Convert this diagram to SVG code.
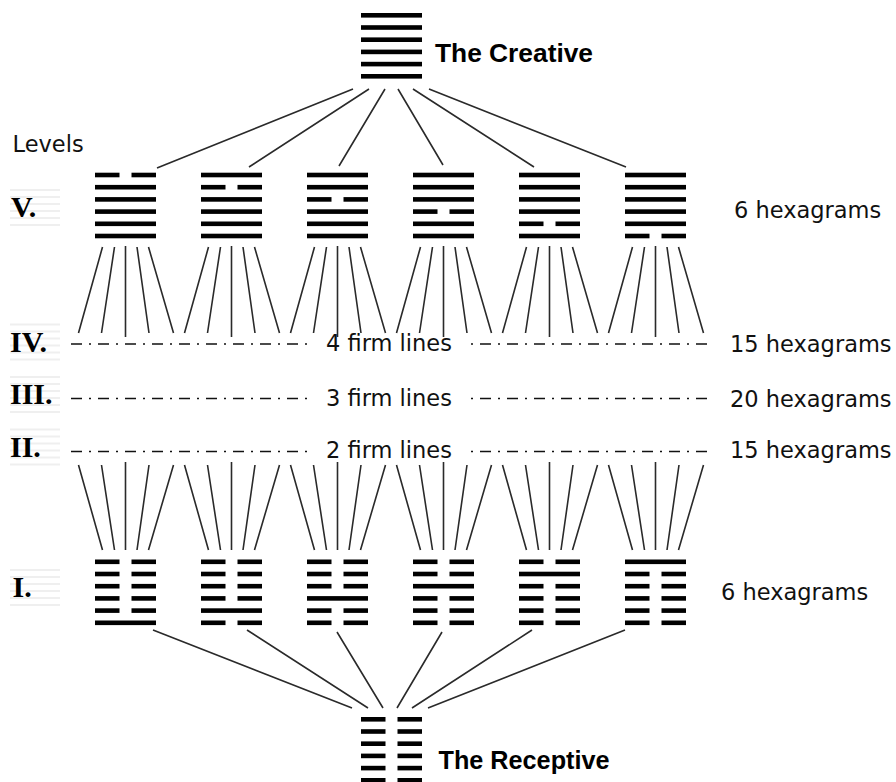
<svg xmlns="http://www.w3.org/2000/svg" xmlns:xlink="http://www.w3.org/1999/xlink" width="896" height="782" viewBox="0 0 896 782">
<style>
.lbl{font-family:"DejaVu Sans",sans-serif;font-size:22.5px;fill:#111}
.ttl{font-family:"Liberation Sans",Arial,sans-serif;font-weight:bold;font-size:25px;fill:#000}
.num{font-family:"Liberation Serif","Times New Roman",serif;font-weight:bold;font-size:30px;fill:#000}
.con{stroke:#2a2a2a;stroke-width:1.6;fill:none}
.dash{stroke:#111;stroke-width:1.7;fill:none}
.faint{stroke:#efefef;stroke-width:2}
</style>
<defs>
<rect id="yang" x="0" y="-2.3" width="61" height="4.6" fill="#000"/>
<g id="yin" fill="#000"><rect x="0" y="-2.3" width="24.5" height="4.6"/><rect x="36.5" y="-2.3" width="24.5" height="4.6"/></g>
<path id="fanV" d="M-23 247L-47 333M-11 247L-24 333M0 246L0 337M11.5 247L23.5 333M23 247L48 333"/>
<path id="fanI" d="M-47 465L-23 550M-24 465L-11 550M0 462L0 550M23.5 465L11.5 550M48 465L23 550"/>
<g id="bg" class="faint"><line x1="10" y1="-27" x2="60" y2="-27"/><line x1="10" y1="-20" x2="60" y2="-20"/><line x1="10" y1="-13" x2="60" y2="-13"/><line x1="10" y1="-6" x2="60" y2="-6"/><line x1="10" y1="1" x2="60" y2="1"/><line x1="10" y1="8" x2="60" y2="8"/></g>
</defs>
<rect width="896" height="782" fill="#fff"/>

<g id="connectors" class="con">
<path d="M353 89L157 168M369 89L249 167M385 89L339 166M398 89L443 165M413 89L534 167M429 89L626 167"/>
<use href="#fanV" x="125.5"/><use href="#fanV" x="231.5"/><use href="#fanV" x="337.5"/><use href="#fanV" x="443.5"/><use href="#fanV" x="549.5"/><use href="#fanV" x="655.5"/>
<use href="#fanI" x="125.5"/><use href="#fanI" x="231.5"/><use href="#fanI" x="337.5"/><use href="#fanI" x="443.5"/><use href="#fanI" x="549.5"/><use href="#fanI" x="655.5"/>
<path d="M153 630L352 708M247 630L368 708M337 632L383 708M442 632L397 708M532 630L412 708M625 630L428 708"/>
</g>

<g id="levels-dashes" class="dash" stroke-dasharray="11 7 2 7">
<line x1="71" y1="344" x2="314" y2="344"/>
<line x1="471" y1="344" x2="711" y2="344" stroke-dashoffset="18"/>
<line x1="71" y1="398.5" x2="314" y2="398.5"/>
<line x1="471" y1="398.5" x2="711" y2="398.5" stroke-dashoffset="18"/>
<line x1="71" y1="451.5" x2="314" y2="451.5"/>
<line x1="471" y1="451.5" x2="711" y2="451.5" stroke-dashoffset="18"/>
</g>

<g id="creative" transform="translate(361,15.3)">
<use href="#yang" y="0"/><use href="#yang" y="12.2"/><use href="#yang" y="24.4"/><use href="#yang" y="36.6"/><use href="#yang" y="48.8"/><use href="#yang" y="61"/>
</g>
<text class="ttl" x="435" y="62.3" textLength="158" lengthAdjust="spacingAndGlyphs">The Creative</text>

<g id="v1" transform="translate(95,175)"><use href="#yin" y="0"/><use href="#yang" y="12.2"/><use href="#yang" y="24.4"/><use href="#yang" y="36.6"/><use href="#yang" y="48.8"/><use href="#yang" y="61"/></g>
<g id="v2" transform="translate(201,175)"><use href="#yang" y="0"/><use href="#yin" y="12.2"/><use href="#yang" y="24.4"/><use href="#yang" y="36.6"/><use href="#yang" y="48.8"/><use href="#yang" y="61"/></g>
<g id="v3" transform="translate(307,175)"><use href="#yang" y="0"/><use href="#yang" y="12.2"/><use href="#yin" y="24.4"/><use href="#yang" y="36.6"/><use href="#yang" y="48.8"/><use href="#yang" y="61"/></g>
<g id="v4" transform="translate(413,175)"><use href="#yang" y="0"/><use href="#yang" y="12.2"/><use href="#yang" y="24.4"/><use href="#yin" y="36.6"/><use href="#yang" y="48.8"/><use href="#yang" y="61"/></g>
<g id="v5" transform="translate(519,175)"><use href="#yang" y="0"/><use href="#yang" y="12.2"/><use href="#yang" y="24.4"/><use href="#yang" y="36.6"/><use href="#yin" y="48.8"/><use href="#yang" y="61"/></g>
<g id="v6" transform="translate(625,175)"><use href="#yang" y="0"/><use href="#yang" y="12.2"/><use href="#yang" y="24.4"/><use href="#yang" y="36.6"/><use href="#yang" y="48.8"/><use href="#yin" y="61"/></g>

<g id="i1" transform="translate(95,561.8)"><use href="#yin" y="0"/><use href="#yin" y="12.2"/><use href="#yin" y="24.4"/><use href="#yin" y="36.6"/><use href="#yin" y="48.8"/><use href="#yang" y="61"/></g>
<g id="i2" transform="translate(201,561.8)"><use href="#yin" y="0"/><use href="#yin" y="12.2"/><use href="#yin" y="24.4"/><use href="#yin" y="36.6"/><use href="#yang" y="48.8"/><use href="#yin" y="61"/></g>
<g id="i3" transform="translate(307,561.8)"><use href="#yin" y="0"/><use href="#yin" y="12.2"/><use href="#yin" y="24.4"/><use href="#yang" y="36.6"/><use href="#yin" y="48.8"/><use href="#yin" y="61"/></g>
<g id="i4" transform="translate(413,561.8)"><use href="#yin" y="0"/><use href="#yin" y="12.2"/><use href="#yang" y="24.4"/><use href="#yin" y="36.6"/><use href="#yin" y="48.8"/><use href="#yin" y="61"/></g>
<g id="i5" transform="translate(519,561.8)"><use href="#yin" y="0"/><use href="#yang" y="12.2"/><use href="#yin" y="24.4"/><use href="#yin" y="36.6"/><use href="#yin" y="48.8"/><use href="#yin" y="61"/></g>
<g id="i6" transform="translate(625,561.8)"><use href="#yang" y="0"/><use href="#yin" y="12.2"/><use href="#yin" y="24.4"/><use href="#yin" y="36.6"/><use href="#yin" y="48.8"/><use href="#yin" y="61"/></g>

<g id="receptive" transform="translate(361,719.3)">
<use href="#yin" y="0"/><use href="#yin" y="12.2"/><use href="#yin" y="24.4"/><use href="#yin" y="36.6"/><use href="#yin" y="48.8"/><use href="#yin" y="61"/>
</g>
<text class="ttl" x="438.5" y="769" textLength="171" lengthAdjust="spacingAndGlyphs">The Receptive</text>

<g id="level-labels">
<use href="#bg" y="217"/><use href="#bg" y="351.5"/><use href="#bg" y="404"/><use href="#bg" y="456.5"/><use href="#bg" y="597"/>
<text class="lbl" x="12.5" y="151.5">Levels</text>
<text class="num" x="11" y="217">V.</text>
<text class="num" x="10" y="351.5">IV.</text>
<text class="num" x="10" y="404">III.</text>
<text class="num" x="10" y="456.5">II.</text>
<text class="num" x="12.5" y="597">I.</text>
</g>

<g id="counts">
<text class="lbl" x="734" y="218">6 hexagrams</text>
<text class="lbl" x="326" y="351">4 firm lines</text>
<text class="lbl" x="730" y="351.5">15 hexagrams</text>
<text class="lbl" x="326" y="405.5">3 firm lines</text>
<text class="lbl" x="730" y="406.5">20 hexagrams</text>
<text class="lbl" x="326" y="458">2 firm lines</text>
<text class="lbl" x="730" y="458">15 hexagrams</text>
<text class="lbl" x="721" y="600">6 hexagrams</text>
</g>
</svg>
